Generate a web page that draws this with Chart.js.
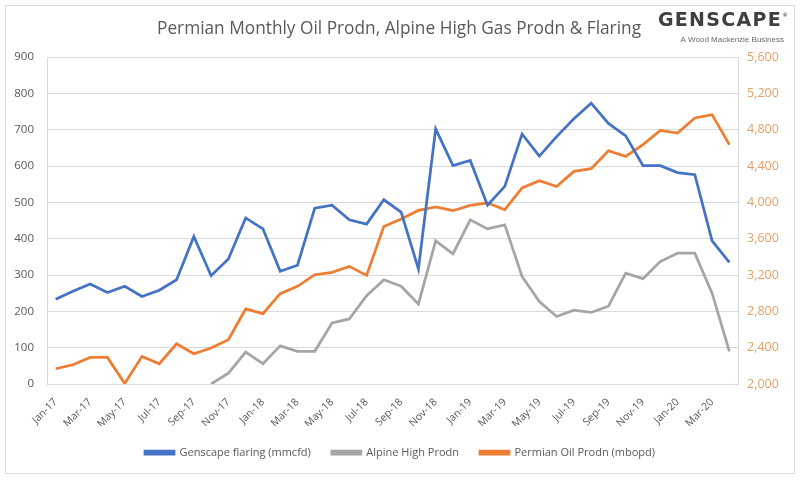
<!DOCTYPE html>
<html>
<head>
<meta charset="utf-8">
<script src="https://cdn.jsdelivr.net/npm/chart.js@4"></script>
<style>
  html, body { margin: 0; padding: 0; background: #fff; }
  #wrap { width: 800px; height: 480px; position: relative; }
</style>
</head>
<body>
<div id="wrap"><canvas id="chart" width="800" height="480"></canvas></div>
<script>
// months Jan-17 .. Apr-20
const months = ['Jan-17','Feb-17','Mar-17','Apr-17','May-17','Jun-17','Jul-17','Aug-17','Sep-17','Oct-17','Nov-17','Dec-17',
  'Jan-18','Feb-18','Mar-18','Apr-18','May-18','Jun-18','Jul-18','Aug-18','Sep-18','Oct-18','Nov-18','Dec-18',
  'Jan-19','Feb-19','Mar-19','Apr-19','May-19','Jun-19','Jul-19','Aug-19','Sep-19','Oct-19','Nov-19','Dec-19',
  'Jan-20','Feb-20','Mar-20','Apr-20'];

const flaring = [233, 255, 275, 252, 269, 241, 258, 287, 406, 298, 344, 457,
  427, 310, 327, 484, 492, 452, 440, 507, 473, 317, 702, 601,
  615, 492, 544, 688, 627, 681, 730, 773, 717, 683, 601, 601,
  582, 576, 394, 335];

const alpineHigh = [null, null, null, null, null, null, null, null, null, 0, 30, 88,
  56, 105, 90, 90, 168, 179, 243, 287, 269, 220, 394, 358,
  452, 427, 438, 296, 227, 186, 203, 197, 214, 305, 290, 337,
  360, 360, 250, 90];

const permianOil = [2168, 2212, 2293, 2293, 2005, 2304, 2223, 2443, 2333, 2396, 2488, 2826,
  2774, 2994, 3075, 3203, 3229, 3295, 3196, 3735, 3817, 3911, 3949, 3908,
  3967, 3993, 3919, 4158, 4238, 4175, 4341, 4370, 4568, 4506, 4635, 4792,
  4763, 4929, 4965, 4635];

const leftTicks = [0, 900, 100];
const rightTicks = [2000, 5600, 400];

const textGrey = '#595959';
const gridGrey = '#d9d9d9';

// title, logo and outer frame
const header = {
  id: 'header',
  afterDraw(chart) {
    const ctx = chart.ctx;
    ctx.save();
    ctx.strokeStyle = '#dcdcdc';
    ctx.lineWidth = 1;
    ctx.strokeRect(5.5, 5.5, 789, 468);

    ctx.fillStyle = textGrey;
    ctx.font = '17.3px "Open Sans", sans-serif';
    ctx.textAlign = 'center';
    ctx.textBaseline = 'middle';
    ctx.fillText('Permian Monthly Oil Prodn, Alpine High Gas Prodn & Flaring', 399, 29);

    ctx.fillStyle = '#3f3f3f';
    ctx.font = 'bold 19px "DejaVu Sans", sans-serif';
    ctx.textAlign = 'right';
    ctx.letterSpacing = '1.3px';
    ctx.fillText('GENSCAPE', 782, 21);
    ctx.letterSpacing = '0px';
    ctx.font = '6px "DejaVu Sans", sans-serif';
    ctx.fillText('®', 788, 15);
    ctx.fillStyle = '#6a6a6a';
    ctx.font = '8px "Liberation Sans", sans-serif';
    ctx.fillText('A Wood Mackenzie Business', 784, 40);
    ctx.restore();
  }
};

// fixed legend band height so the plot bottom sits at the right place
const legendBand = {
  id: 'legendBand',
  beforeLayout(chart) {
    const lg = chart.legend;
    if (lg && !lg._fixed) {
      const fit = lg.fit.bind(lg);
      lg.fit = function() { fit(); this.height = 54; };
      lg._fixed = true;
    }
  }
};

new Chart(document.getElementById('chart').getContext('2d'), {
  type: 'line',
  data: {
    labels: months,
    datasets: [{
      label: 'Genscape flaring (mmcfd)',
      data: flaring,
      borderColor: '#4472C4',
      backgroundColor: '#4472C4',
      borderWidth: 2.75,
      pointRadius: 0,
      tension: 0,
      yAxisID: 'yL'
    }, {
      label: 'Alpine High Prodn',
      data: alpineHigh,
      borderColor: '#A5A5A5',
      backgroundColor: '#A5A5A5',
      borderWidth: 2.75,
      pointRadius: 0,
      tension: 0,
      yAxisID: 'yL'
    }, {
      label: 'Permian Oil Prodn (mbopd)',
      data: permianOil,
      borderColor: '#ED7D31',
      backgroundColor: '#ED7D31',
      borderWidth: 2.75,
      pointRadius: 0,
      tension: 0,
      yAxisID: 'yR'
    }]
  },
  options: {
    responsive: false,
    animation: false,
    devicePixelRatio: 1,
    layout: { padding: { top: 57, left: 0, right: 0, bottom: 0 } },
    scales: {
      x: {
        offset: true,
        grid: { display: false, drawTicks: false },
        border: { display: false },
        afterFit: function(s) { s.height = 42; },
        ticks: {
          autoSkip: false,
          minRotation: 45,
          maxRotation: 45,
          padding: 12,
          color: textGrey,
          font: { family: '"Open Sans", sans-serif', size: 10.5 },
          callback: function(v, i) { return i % 2 === 0 ? months[i] : ''; }
        }
      },
      yL: {
        position: 'left',
        min: leftTicks[0],
        max: leftTicks[1],
        afterFit: function(s) { s.width = 47; },
        grid: { color: gridGrey, lineWidth: 1, drawTicks: false },
        border: { display: true, color: gridGrey },
        ticks: {
          stepSize: leftTicks[2],
          padding: 13,
          color: textGrey,
          font: { family: '"Open Sans", sans-serif', size: 11.5 }
        }
      },
      yR: {
        position: 'right',
        min: rightTicks[0],
        max: rightTicks[1],
        afterFit: function(s) { s.width = 62; },
        grid: { drawOnChartArea: false, drawTicks: false },
        border: { display: true, color: gridGrey },
        ticks: {
          stepSize: rightTicks[2],
          padding: 9,
          color: '#e3a06a',
          font: { family: '"Open Sans", sans-serif', size: 12.5 },
          callback: function(v) { return v.toLocaleString('en-US'); }
        }
      }
    },
    plugins: {
      legend: {
        position: 'bottom',
        labels: {
          boxWidth: 29,
          boxHeight: 3,
          color: textGrey,
          padding: 21,
          font: { family: '"Open Sans", sans-serif', size: 11 }
        }
      },
      tooltip: { enabled: false }
    }
  },
  plugins: [header, legendBand]
});
</script>
</body>
</html>
